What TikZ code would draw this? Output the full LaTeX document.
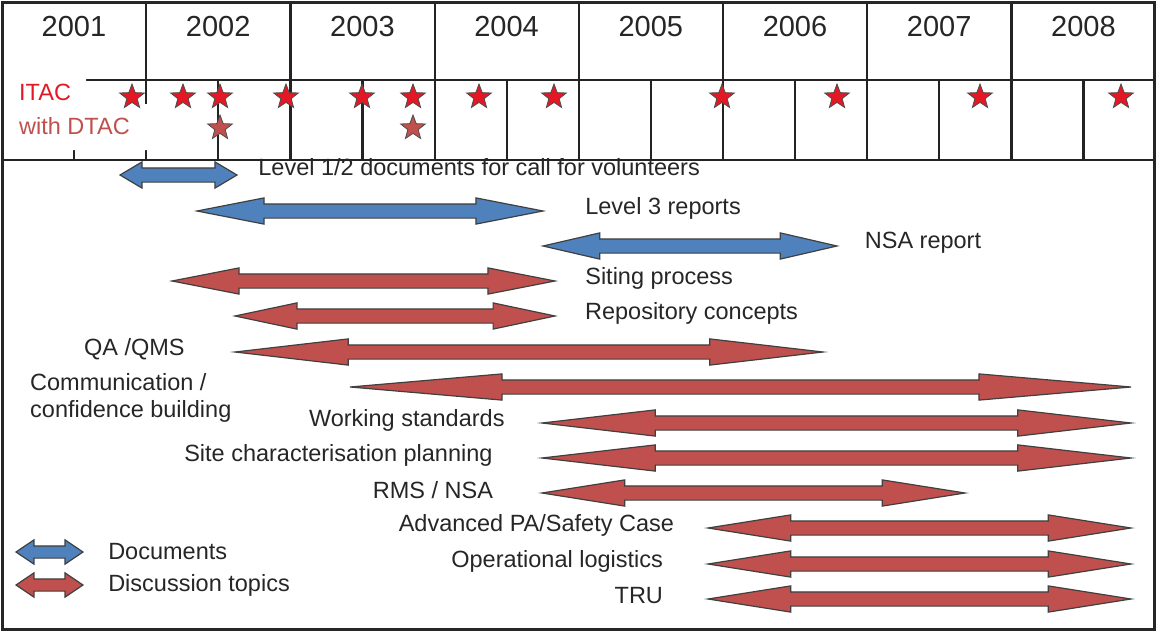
\documentclass[tikz,border=0pt]{standalone}
\usepackage{fontspec}
\setmainfont{Liberation Sans}
\usepackage{xcolor}
\usetikzlibrary{shapes.geometric, shapes.arrows, positioning}

\definecolor{docblue}{RGB}{79,129,189}
\definecolor{topicred}{RGB}{192,80,77}
\definecolor{itacred}{RGB}{228,24,36}
\definecolor{gridgray}{RGB}{35,35,35}

\begin{document}
\begin{tikzpicture}[x=1pt, y=-1pt]
\tikzstyle{docarrow} = [double arrow, draw=black!75, fill=docblue, line width=1.2pt, inner sep=6.5pt, double arrow head extend=6pt]
\tikzstyle{topic} = [docarrow, fill=topicred]
\tikzstyle{itacstar} = [star, star points=5, star point ratio=2.4, draw=black!70, fill=itacred, line width=0.8pt, minimum size=26pt, inner sep=0pt]
\tikzstyle{dtacstar} = [itacstar, fill=topicred]
\tikzstyle{txt} = [inner sep=0pt, text=black!85, font=\fontsize{23.5}{27}\selectfont]
\tikzstyle{tasktext} = [txt, yshift=3pt]
\tikzstyle{year} = [inner sep=0pt, text=black!85, font=\fontsize{29}{32}\selectfont]
\tikzstyle{gridline} = [line width=2.2pt, draw=gridgray]

\useasboundingbox (0,0) rectangle (1157,632);

% years and half years
\draw [gridline] (3,80) -- (1154,80);
\draw [gridline] (3,160) -- (1154,160);
\foreach \k in {1,...,7} \draw [gridline] (2+144.2*\k,3) -- (2+144.2*\k,160);
\foreach \k in {0,...,7} \draw [gridline] (74+144.2*\k,80) -- (74+144.2*\k,160);
\foreach \yr [count=\k from 0] in {2001,...,2008}
  \node (y\yr) [year] at (74+144.2*\k,27) {\yr};

% meetings
\fill [white] (4,78) -- (86,78) -- (86,104) -- (157,104) -- (157,150) -- (4,150) -- cycle;
\node (itactext) [txt, anchor=west, text=itacred] at (19,92) {ITAC};
\node (dtactext) [txt, anchor=west, text=topicred] at (19,126) {with DTAC};
\foreach \x [count=\i] in {132,183,220,286,362,413,479,554,722,837,980,1121}
  \node (itac\i) [itacstar] at (\x,97) {};
\node (dtac1) [dtacstar] at (220,128) {};
\node (dtac2) [dtacstar] at (413,128) {};

% documents
\node (lvlone) [docarrow, minimum height=117pt, double arrow tip angle=61.5] at (178.5,175) {};
\node (lvlthree) [docarrow, minimum height=346pt, double arrow tip angle=22.1] at (370,211) {};
\node (nsa) [docarrow, minimum height=294pt, double arrow tip angle=26] at (690,246) {};
\node (lvlonetext) [tasktext, right=20pt of lvlone, yshift=5pt] {Level 1/2 documents for call for volunteers};
\node (lvlthreetext) [tasktext, right=39pt of lvlthree] {Level 3 reports};
\node (nsatext) [tasktext, right=25pt of nsa] {NSA report};

% discussion topics
\node (siting) [topic, minimum height=383pt, double arrow tip angle=22.1] at (363.5,281) {};
\node (repo) [topic, minimum height=320pt, double arrow tip angle=23.9] at (395,316) {};
\node (qa) [topic, minimum height=588pt, double arrow tip angle=13.2] at (529,352) {};
\node (comm) [topic, minimum height=781pt, double arrow tip angle=9.85] at (740.5,387) {};
\node (working) [topic, minimum height=589pt, double arrow tip angle=13.2] at (836.5,423) {};
\node (sitechar) [topic, minimum height=589pt, double arrow tip angle=13.2] at (836.5,458) {};
\node (rms) [topic, minimum height=423pt, double arrow tip angle=18] at (753.5,493) {};
\node (advpa) [topic, minimum height=423pt, double arrow tip angle=18] at (919.5,528) {};
\node (oplog) [topic, minimum height=423pt, double arrow tip angle=18] at (919.5,564) {};
\node (tru) [topic, minimum height=423pt, double arrow tip angle=18] at (919.5,599) {};

\node (sitingtext) [tasktext, right=27pt of siting] {Siting process};
\node (repotext) [tasktext, right=27pt of repo] {Repository concepts};
\node (qatext) [tasktext, left=45pt of qa] {QA /QMS};
\node (commtext) [txt, align=left, anchor=west] at (30,398) {Communication /\\confidence building};
\node (workingtext) [tasktext, left=32pt of working] {Working standards};
\node (sitechartext) [tasktext, left=44pt of sitechar] {Site characterisation planning};
\node (rmstext) [tasktext, left=45pt of rms] {RMS / NSA};
\node (advpatext) [tasktext, left=30pt of advpa] {Advanced PA/Safety Case};
\node (oplogtext) [tasktext, left=41pt of oplog] {Operational logistics};
\node (trutext) [tasktext, left=41pt of tru] {TRU};

% legend
\node (docleg) [docarrow, inner sep=5.5pt, minimum height=67pt, double arrow tip angle=68] at (49.5,552) {};
\node (topicleg) [topic, inner sep=5.5pt, minimum height=67pt, double arrow tip angle=68] at (49.5,585) {};
\node (doclegtext) [txt, right=24pt of docleg] {Documents};
\node (topiclegtext) [txt, right=24pt of topicleg] {Discussion topics};

\draw [line width=3.5pt, draw=black!85] (2.5,2.5) rectangle (1154.5,629.5);
\end{tikzpicture}
\end{document}
